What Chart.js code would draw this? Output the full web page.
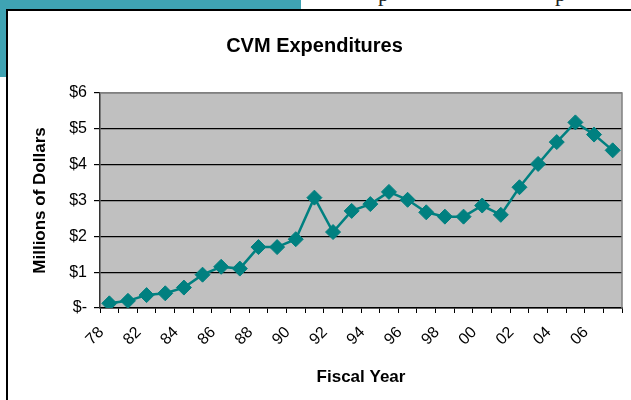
<!DOCTYPE html>
<html>
<head>
<meta charset="utf-8">
<script src="https://cdn.jsdelivr.net/npm/chart.js@4/dist/chart.umd.min.js"></script>
<style>
  html, body { margin: 0; padding: 0; background: #fff; }
  #wrap { position: relative; width: 631px; height: 400px; overflow: hidden; }
  .teal { position: absolute; background: #3fa3b3; }
  .blk { position: absolute; background: #000; }
  .frag { position: absolute; font-family: "Liberation Serif", "Times New Roman", serif; font-size: 22px; line-height: 22px; color: #222; }
  canvas { position: absolute; left: 0; top: 0; }
</style>
</head>
<body>
<div id="wrap">
  <div class="teal" style="left:0;top:0;width:301px;height:10px;"></div>
  <div class="teal" style="left:0;top:0;width:6px;height:77px;"></div>
  <div class="frag" style="left:378px;top:-17px;">p</div>
  <div class="frag" style="left:555px;top:-17px;">p</div>
  <div class="blk" style="left:6px;top:9px;width:625px;height:2px;"></div>
  <div class="blk" style="left:6px;top:9px;width:2px;height:391px;"></div>
  <canvas id="c" width="631" height="400"></canvas>
</div>
<script>
const years = ['78','81','82','83','84','85','86','87','88','89','90','91','92','93','94','95','96','97','98','99','00','01','02','03','04','05','06','07'];
const expenditures = [0.13,0.20,0.36,0.41,0.57,0.93,1.15,1.10,1.70,1.70,1.92,3.08,2.12,2.71,2.90,3.24,3.02,2.67,2.55,2.55,2.86,2.60,3.37,4.02,4.63,5.18,4.84,4.40];
const yTickLabels = ['$-','$1','$2','$3','$4','$5','$6'];

const FONT = "'Liberation Sans', Arial, sans-serif";

const plotBg = {
  id: 'plotBg',
  beforeDraw(chart) {
    const a = chart.chartArea, ctx = chart.ctx;
    ctx.save();
    ctx.fillStyle = '#c0c0c0';
    ctx.fillRect(a.left, a.top, a.right - a.left, a.bottom - a.top);
    ctx.restore();
  },
  beforeDatasetsDraw(chart) {
    const a = chart.chartArea, ctx = chart.ctx;
    ctx.save();
    ctx.strokeStyle = '#808080';
    ctx.lineWidth = 1.5;
    ctx.beginPath();
    ctx.moveTo(a.left, a.top);
    ctx.lineTo(a.right, a.top);
    ctx.lineTo(a.right, a.bottom);
    ctx.stroke();
    ctx.restore();
  }
};

new Chart(document.getElementById('c'), {
  type: 'line',
  data: {
    labels: years,
    datasets: [{
      data: expenditures,
      borderColor: '#008080',
      backgroundColor: '#008080',
      borderWidth: 2.5,
      pointStyle: 'rectRot',
      pointRadius: 7.5,
      pointBorderWidth: 1,
      pointBorderColor: '#008080',
      pointBackgroundColor: '#008080',
      tension: 0
    }]
  },
  options: {
    responsive: false,
    animation: false,
    devicePixelRatio: 1,
    layout: { padding: { left: 7, right: 9, top: 12, bottom: 0 } },
    plugins: {
      legend: { display: false },
      tooltip: { enabled: false },
      title: {
        display: true,
        text: 'CVM Expenditures',
        color: '#000',
        font: { family: FONT, size: 20, weight: 'bold', lineHeight: 1.2 },
        padding: { top: 22, bottom: 35 }
      }
    },
    scales: {
      x: {
        offset: true,
        afterFit(scale) { scale.height = 92; scale.paddingLeft = 0; scale.paddingRight = 0; },
        grid: { display: true, offset: true, drawOnChartArea: false, drawTicks: true, tickLength: 5, tickColor: '#000', tickWidth: 1 },
        border: { display: true, color: '#000', width: 1.5 },
        ticks: {
          autoSkip: false,
          minRotation: 45,
          maxRotation: 45,
          padding: 10,
          labelOffset: -8,
          color: '#000',
          font: { family: FONT, size: 16 },
          callback(value, index) { return index % 2 === 0 ? years[index] : ''; }
        },
        title: {
          display: true,
          text: 'Fiscal Year',
          color: '#000',
          font: { family: FONT, size: 17, weight: 'bold', lineHeight: 1.2 },
          padding: { top: 0, bottom: 12 }
        }
      },
      y: {
        min: 0,
        max: 6,
        afterFit(scale) { scale.width = 93; scale.paddingTop = 0; scale.paddingBottom = 0; },
        grid: {
          drawTicks: true,
          tickLength: 6,
          tickColor: '#000',
          color(ctx) { return ctx.tick && ctx.tick.value === 6 ? '#808080' : '#000'; },
          lineWidth: 1.2
        },
        border: { display: true, color: '#333', width: 1.5 },
        ticks: {
          stepSize: 1,
          padding: 7,
          color: '#000',
          font: { family: FONT, size: 16 },
          callback(value) { return yTickLabels[value]; }
        },
        title: {
          display: true,
          text: 'Millions of Dollars',
          color: '#000',
          font: { family: FONT, size: 17, weight: 'bold', lineHeight: 1.2 },
          padding: { top: 23, bottom: 0 }
        }
      }
    }
  },
  plugins: [plotBg]
});
</script>
</body>
</html>
